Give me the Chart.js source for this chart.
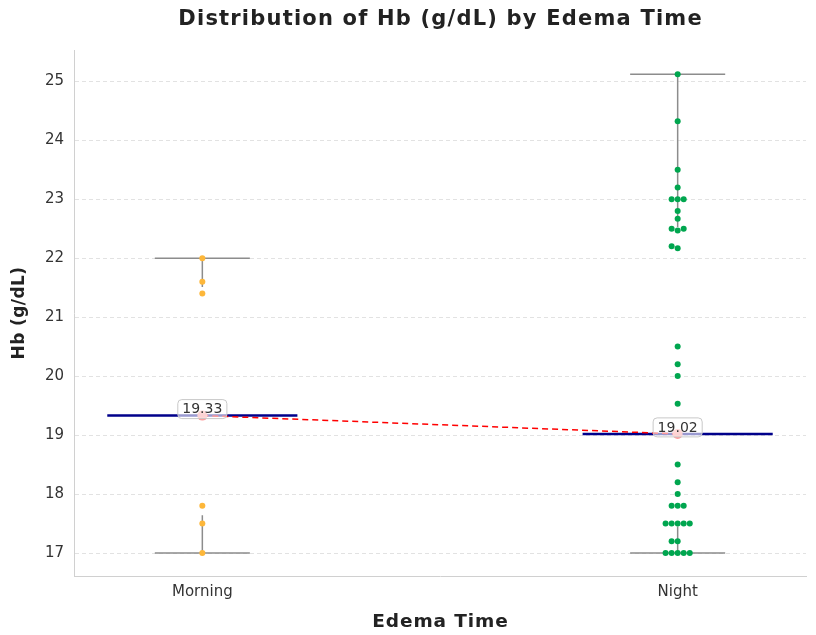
<!DOCTYPE html>
<html lang="en">
<head>
<meta charset="utf-8">
<title>Distribution of Hb (g/dL) by Edema Time</title>
<script src="https://cdn.jsdelivr.net/npm/chart.js@4/dist/chart.umd.min.js"></script>
<style>
    html, body { margin: 0; padding: 0; background: #fff; }
    #wrap { width: 816px; height: 635px; }
</style>
</head>
<body>
<div id="wrap"><canvas id="chart" width="816" height="635"></canvas></div>
<script>
// groups on the x axis
const categories = ['Morning', 'Night'];

// Hb readings per group (g/dL)
const morningHb = [17.0, 17.5, 17.8, 21.4, 21.6, 22.0];
const nightHb = [
    17.0, 17.0, 17.0, 17.0, 17.0, 17.2, 17.2,
    17.5, 17.5, 17.5, 17.5, 17.5, 17.8, 17.8, 17.8,
    18.0, 18.2, 18.5, 19.53, 20.0, 20.2, 20.5,
    22.17, 22.2, 22.47, 22.5, 22.5, 22.67, 22.8,
    23.0, 23.0, 23.0, 23.2, 23.5, 24.32, 25.12
];

// box summary
const medians = [19.33, 19.02];
const q1 = [17.64, 17.45];
const q3 = [21.51, 22.53];
const whiskerLow = [17.0, 17.0];
const whiskerHigh = [22.0, 25.12];

const yTicks = [17, 18, 19, 20, 21, 22, 23, 24, 25];

const TITLE = 'Distribution of Hb (g/dL) by Edema Time';
const X_TITLE = 'Edema Time';
const Y_TITLE = 'Hb (g/dL)';
const DOT_COLORS = ['#fdb73a', '#00a64f'];
const FONT = "'DejaVu Sans', 'Liberation Sans', sans-serif";

// simple beeswarm: spread values that would overlap sideways
function swarm(values, center) {
    const stepX = 0.0127;  // one dot width in x units
    const gapY = 0.1;      // one dot height in y units
    const placed = [];
    [...values].sort((a, b) => a - b).forEach(v => {
        for (let k = 0; k < 20; k++) {
            const n = k === 0 ? 0 : (k % 2 ? -Math.ceil(k / 2) : Math.ceil(k / 2));
            const clash = placed.some(p => {
                const dx = (p.n - n), dy = (p.y - v) / gapY;
                return dx * dx + dy * dy < 0.95;
            });
            if (!clash) { placed.push({ n: n, y: v }); break; }
        }
    });
    return placed.map(p => ({ x: center + p.n * stepX, y: p.y }));
}

function whiskerPoints() {
    const pts = [];
    categories.forEach((c, i) => {
        pts.push({ x: i - 0.1, y: whiskerHigh[i] }, { x: i + 0.1, y: whiskerHigh[i] }, { x: i, y: null });
        pts.push({ x: i, y: whiskerHigh[i] }, { x: i, y: q3[i] }, { x: i, y: null });
        pts.push({ x: i - 0.1, y: whiskerLow[i] }, { x: i + 0.1, y: whiskerLow[i] }, { x: i, y: null });
        pts.push({ x: i, y: whiskerLow[i] }, { x: i, y: q1[i] }, { x: i, y: null });
    });
    return pts;
}

function medianPoints() {
    const pts = [];
    medians.forEach((m, i) => {
        pts.push({ x: i - 0.2, y: m }, { x: i + 0.2, y: m }, { x: i, y: null });
    });
    return pts;
}

// title and axis titles, drawn by hand so the letters can be spaced out
const titles = {
    id: 'titles',
    afterDraw(chart) {
        const { ctx, chartArea } = chart;
        const cx = (chartArea.left + chartArea.right) / 2;
        const cy = (chartArea.top + chartArea.bottom) / 2;
        ctx.save();
        ctx.fillStyle = '#222';
        ctx.textAlign = 'center';
        ctx.textBaseline = 'alphabetic';

        ctx.font = 'bold 21px ' + FONT;
        ctx.letterSpacing = '1.2px';
        ctx.fillText(TITLE, cx + 0.6, 24.5);

        ctx.font = 'bold 18.5px ' + FONT;
        ctx.letterSpacing = '0.9px';
        ctx.fillText(X_TITLE, cx + 0.5, 627);

        ctx.font = 'bold 17px ' + FONT;
        ctx.letterSpacing = '0.4px';
        ctx.translate(24, cy);
        ctx.rotate(-Math.PI / 2);
        ctx.fillText(Y_TITLE, 0, 0);
        ctx.restore();
    }
};

// value boxes above each median marker
const medianLabels = {
    id: 'medianLabels',
    afterDatasetsDraw(chart) {
        const { ctx, scales } = chart;
        ctx.save();
        ctx.font = '14px ' + FONT;
        ctx.textAlign = 'center';
        ctx.textBaseline = 'middle';
        medians.forEach((m, i) => {
            const x = scales.x.getPixelForValue(i);
            const y = scales.y.getPixelForValue(m) - 6.5;
            const txt = m.toFixed(2);
            const w = ctx.measureText(txt).width + 9;
            const h = 19;
            ctx.beginPath();
            ctx.roundRect(x - w / 2, y - h / 2, w, h, 4);
            ctx.fillStyle = 'rgba(255,255,255,0.6)';
            ctx.fill();
            ctx.strokeStyle = '#c8c8c8';
            ctx.lineWidth = 1;
            ctx.stroke();
            ctx.fillStyle = '#333';
            ctx.fillText(txt, x, y + 0.5);
        });
        ctx.restore();
    }
};

new Chart(document.getElementById('chart'), {
    type: 'scatter',
    data: {
        datasets: [
            {
                label: 'whiskers', data: whiskerPoints(), showLine: true, spanGaps: false,
                borderColor: '#8c8c8c', borderWidth: 1.5, pointRadius: 0, order: 6
            },
            {
                label: categories[0], data: swarm(morningHb, 0),
                backgroundColor: DOT_COLORS[0], borderWidth: 0, pointRadius: 3, order: 5
            },
            {
                label: categories[1], data: swarm(nightHb, 1),
                backgroundColor: DOT_COLORS[1], borderWidth: 0, pointRadius: 3, order: 5
            },
            {
                label: 'median', data: medianPoints(), showLine: true, spanGaps: false,
                borderColor: '#00008b', borderWidth: 2.5, pointRadius: 0, order: 4
            },
            {
                label: 'trend', data: medians.map((m, i) => ({ x: i, y: m })), showLine: true,
                borderColor: '#ff0000', borderWidth: 1.5, borderDash: [6, 4], pointRadius: 0, order: 3
            },
            {
                label: 'median marker', data: medians.map((m, i) => ({ x: i, y: m })),
                backgroundColor: 'rgba(255,150,150,0.95)', borderWidth: 0, pointRadius: 5, order: 2
            }
        ]
    },
    options: {
        responsive: false,
        animation: false,
        events: [],
        layout: { padding: { left: 0, right: 10, top: 50, bottom: 0 } },
        plugins: {
            legend: { display: false },
            tooltip: { enabled: false },
            title: { display: false }
        },
        scales: {
            x: {
                type: 'linear',
                min: -0.27, max: 1.27,
                afterBuildTicks: s => { s.ticks = categories.map((c, i) => ({ value: i })); },
                afterFit: s => { s.height = 59; },
                ticks: {
                    callback: v => categories[v],
                    color: '#333', font: { family: FONT, size: 15 }, padding: 7
                },
                grid: { display: false, drawTicks: false },
                border: { display: true, color: '#d0d0d0', width: 1 },
                title: { display: false }
            },
            y: {
                min: 16.61, max: 25.53,
                afterBuildTicks: s => { s.ticks = yTicks.map(v => ({ value: v })); },
                afterFit: s => { s.width = 74; },
                ticks: {
                    color: '#333', font: { family: FONT, size: 15 }, padding: 10
                },
                grid: { color: '#e2e2e2', lineWidth: 1, drawTicks: false },
                border: { display: true, color: '#d0d0d0', width: 1, dash: [4, 3] },
                title: { display: false }
            }
        }
    },
    plugins: [titles, medianLabels]
});
</script>
</body>
</html>
